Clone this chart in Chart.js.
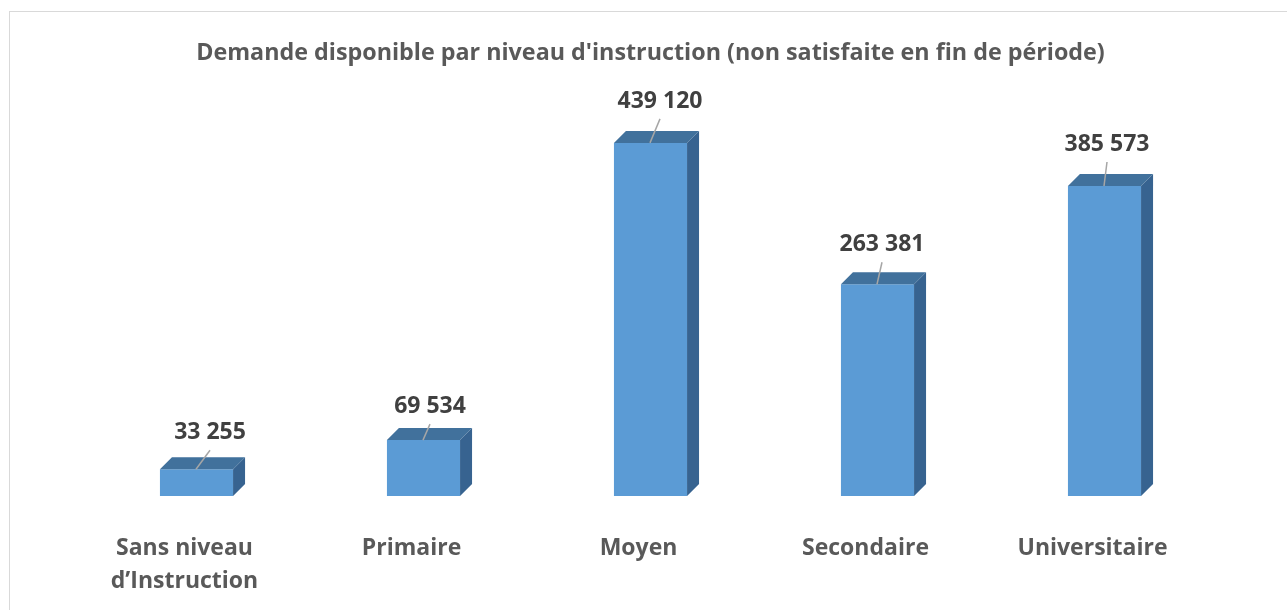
<!DOCTYPE html>
<html>
<head>
<meta charset="utf-8">
<script src="https://cdn.jsdelivr.net/npm/chart.js@4"></script>
<style>
    body { margin: 0; background: #ffffff; overflow: hidden; }
    #frame {
        position: absolute; left: 9px; top: 11px; width: 1400px; height: 700px;
        border: 1.5px solid #d9d9d9;
    }
    #demandeChart { position: absolute; left: 0; top: 0; }
</style>
</head>
<body>
<div id="frame"></div>
<canvas id="demandeChart" width="1287" height="610"></canvas>
<script>
const niveaux = [
    ['Sans niveau', 'd\u2019Instruction'],
    'Primaire',
    'Moyen',
    'Secondaire',
    'Universitaire',
]
const demande = [33255, 69534, 439120, 263381, 385573]
const titre =
    "Demande disponible par niveau d'instruction (non satisfaite en fin de période)"

// leader line nudges for the data labels (dx, dy in px)
const labelNudge = [
    [14, 19],
    [7, 16],
    [10, 24],
    [5, 22],
    [3, 24],
]

const DEPTH = 12
const FONT = "'Open Sans', 'Lato', sans-serif"

function formatNombre(v) {
    return String(v).replace(/\B(?=(\d{3})+(?!\d))/g, ' ')
}

const bar3dPlugin = {
    id: 'bar3dPlugin',
    afterDatasetsDraw(chart) {
        const ctx = chart.ctx
        const meta = chart.getDatasetMeta(0)
        const base = chart.scales.y.getPixelForValue(0)
        ctx.save()
        meta.data.forEach((bar, i) => {
            const l = bar.x - bar.width / 2
            const r = bar.x + bar.width / 2
            const t = bar.y

            // top face
            ctx.fillStyle = '#41719c'
            ctx.beginPath()
            ctx.moveTo(l, t)
            ctx.lineTo(r, t)
            ctx.lineTo(r + DEPTH, t - DEPTH)
            ctx.lineTo(l + DEPTH, t - DEPTH)
            ctx.closePath()
            ctx.fill()

            // side face
            ctx.fillStyle = '#376390'
            ctx.beginPath()
            ctx.moveTo(r, t)
            ctx.lineTo(r + DEPTH, t - DEPTH)
            ctx.lineTo(r + DEPTH, base - DEPTH)
            ctx.lineTo(r, base)
            ctx.closePath()
            ctx.fill()

            // leader line
            const [dx, dy] = labelNudge[i]
            const x0 = bar.x - 0.5
            ctx.strokeStyle = '#a6a6a6'
            ctx.lineWidth = 1.5
            ctx.beginPath()
            ctx.moveTo(x0, t)
            ctx.lineTo(x0 + dx, t - dy)
            ctx.stroke()

            // value label
            ctx.fillStyle = '#404040'
            ctx.font = 'bold 23px ' + FONT
            ctx.textAlign = 'center'
            ctx.textBaseline = 'alphabetic'
            ctx.fillText(formatNombre(demande[i]), x0 + dx, t - dy - 11)
        })
        ctx.restore()
    },
}

const ctx = document.getElementById('demandeChart').getContext('2d')

const demandeChart = new Chart(ctx, {
    type: 'bar',
    data: {
        labels: niveaux,
        datasets: [
            {
                data: demande,
                backgroundColor: '#5b9bd5',
                borderWidth: 0,
                categoryPercentage: 1,
                barPercentage: 0.322,
            },
        ],
    },
    options: {
        responsive: false,
        animation: false,
        layout: {
            padding: { left: 83, right: 69, top: 0, bottom: 0 },
        },
        plugins: {
            legend: { display: false },
            tooltip: { enabled: false },
            title: {
                display: true,
                text: titre,
                color: '#595959',
                font: { family: FONT, size: 23.3, weight: 'bold', lineHeight: 1.2 },
                padding: { top: 39, bottom: 27 },
            },
        },
        scales: {
            x: {
                grid: { display: false },
                border: { display: false },
                ticks: {
                    color: '#595959',
                    font: { family: FONT, size: 23, weight: 'bold', lineHeight: 1.42 },
                    padding: 28,
                    labelOffset: -12,
                    maxRotation: 0,
                    autoSkip: false,
                },
                afterFit(scale) {
                    scale.height = 114
                },
            },
            y: {
                display: false,
                min: 0,
                max: 500000,
            },
        },
    },
    plugins: [bar3dPlugin],
})
</script>
</body>
</html>
